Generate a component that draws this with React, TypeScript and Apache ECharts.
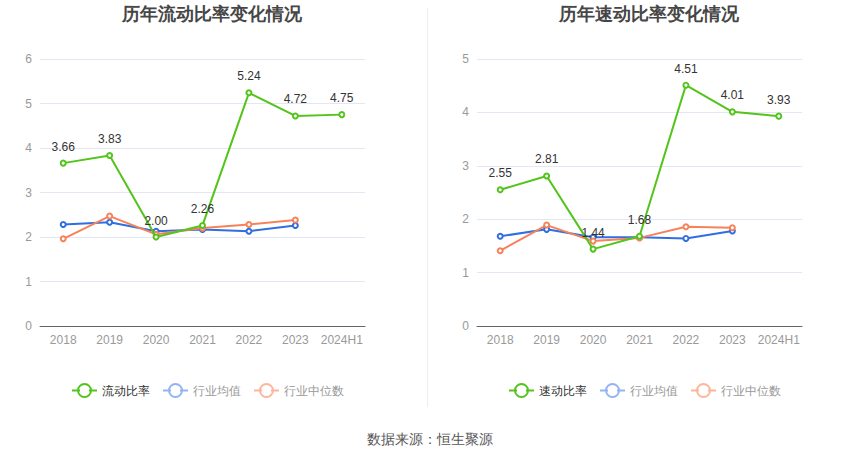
import React, { useEffect, useRef } from "react";
import * as echarts from "echarts";

const categories = ["2018", "2019", "2020", "2021", "2022", "2023", "2024H1"];
const currentRatio = [3.66, 3.83, 2.0, 2.26, 5.24, 4.72, 4.75];
const currentAvg = [2.28, 2.33, 2.13, 2.17, 2.13, 2.26, null];
const currentMedian = [1.96, 2.47, 2.06, 2.2, 2.28, 2.38, null];
const quickRatio = [2.55, 2.81, 1.44, 1.68, 4.51, 4.01, 3.93];
const quickAvg = [1.68, 1.81, 1.66, 1.66, 1.64, 1.78, null];
const quickMedian = [1.41, 1.89, 1.59, 1.65, 1.86, 1.84, null];

const GREEN = "#52c41a";
const BLUE = "#2f6fe0";
const ORANGE = "#f7825a";

export default function App() {
  const ref = useRef<HTMLDivElement>(null);
  useEffect(() => {
    document.body.style.margin = "0";
    const chart = echarts.init(ref.current!, null, { renderer: "svg" });
    const mainSeries = (name: string, data: number[], idx: number) => ({
      name,
      type: "line",
      xAxisIndex: idx,
      yAxisIndex: idx,
      data,
      symbol: "emptyCircle",
      symbolSize: 5,
      lineStyle: { width: 2, color: GREEN },
      itemStyle: { color: GREEN },
      label: {
        show: true,
        position: "top",
        color: "#333",
        fontSize: 12,
        distance: 7,
        formatter: (p: any) => Number(p.value).toFixed(2),
      },
      z: 3,
    });
    const sub = (name: string, data: (number | null)[], idx: number, color: string) => ({
      name,
      type: "line",
      xAxisIndex: idx,
      yAxisIndex: idx,
      data,
      symbol: "emptyCircle",
      symbolSize: 5,
      lineStyle: { width: 2, color },
      itemStyle: { color },
      z: 2,
    });
    const xAxis = (idx: number) => ({
      type: "category",
      gridIndex: idx,
      data: categories,
      axisLine: { lineStyle: { color: "#666" } },
      axisTick: { alignWithLabel: true, lineStyle: { color: "#666" } },
      axisLabel: { color: "#999", fontSize: 12, margin: 8, interval: 0 },
    });
    const yAxis = (idx: number, max: number) => ({
      type: "value",
      gridIndex: idx,
      min: 0,
      max,
      interval: 1,
      axisLine: { show: false },
      axisTick: { show: false },
      axisLabel: { color: "#999", fontSize: 12, margin: 8 },
      splitLine: { lineStyle: { color: "#e3e7f3" } },
    });
    const legend = (left: number, names: string[]) => ({
      top: 378,
      left,
      itemWidth: 25,
      itemHeight: 14,
      itemGap: 12,
      icon: "path://M0,7 L8,7 M17,7 L25,7 M19,7 A6.5,6.5 0 1 1 6,7 A6.5,6.5 0 1 1 19,7",
      data: [
        { name: names[0], textStyle: { color: "#333" }, itemStyle: { color: "transparent", borderColor: GREEN, borderWidth: 2 }, lineStyle: { color: GREEN } },
        { name: names[1], textStyle: { color: "#999" }, itemStyle: { color: "transparent", borderColor: "#93b4f2", borderWidth: 2 }, lineStyle: { color: "#93b4f2" } },
        { name: names[2], textStyle: { color: "#999" }, itemStyle: { color: "transparent", borderColor: "#fbb69c", borderWidth: 2 }, lineStyle: { color: "#fbb69c" } },
      ],
      textStyle: { fontSize: 12 },
      selectedMode: false,
    });
    chart.setOption({
      animation: false,
      backgroundColor: "#fff",
      title: [
        { text: "历年流动比率变化情况", left: 207, top: 0, textAlign: "center", textStyle: { fontSize: 18, fontWeight: "bold", color: "#464646" } },
        { text: "历年速动比率变化情况", left: 644, top: 0, textAlign: "center", textStyle: { fontSize: 18, fontWeight: "bold", color: "#464646" } },
        { text: "数据来源：恒生聚源", left: 425, top: 427, textAlign: "center", textStyle: { fontSize: 14, fontWeight: "normal", color: "#555" } },
      ],
      legend: [
        { ...legend(66, ["流动比率", "行业均值", "行业中位数"]) },
        { ...legend(503, ["速动比率", "行业均值", "行业中位数"]) },
      ],
      grid: [
        { left: 40, top: 59, width: 325, height: 267 },
        { left: 477, top: 59, width: 325, height: 267 },
      ],
      xAxis: [xAxis(0), xAxis(1)],
      yAxis: [yAxis(0, 6), yAxis(1, 5)],
      graphic: [
        { type: "line", shape: { x1: 427.5, y1: 8, x2: 427.5, y2: 407 }, style: { stroke: "#eee", lineWidth: 1 } },
      ],
      series: [
        mainSeries("流动比率", currentRatio, 0),
        sub("行业均值", currentAvg, 0, BLUE),
        sub("行业中位数", currentMedian, 0, ORANGE),
        mainSeries("速动比率", quickRatio, 1),
        sub("行业均值", quickAvg, 1, BLUE),
        sub("行业中位数", quickMedian, 1, ORANGE),
      ],
    });
    return () => chart.dispose();
  }, []);
  return <div ref={ref} style={{ width: 850, height: 459 }} />;
}
